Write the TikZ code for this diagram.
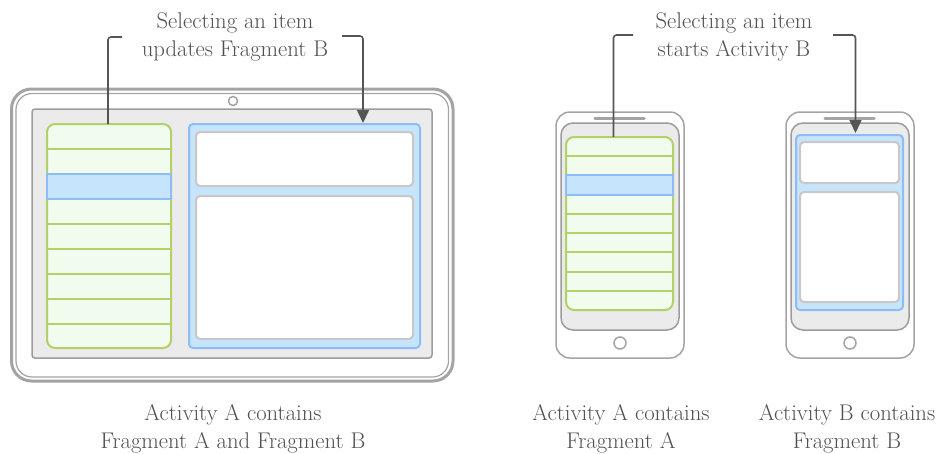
\documentclass[tikz,border=0pt]{standalone}
\usetikzlibrary{arrows.meta}
\definecolor{txt}{HTML}{505050}
\definecolor{arr}{HTML}{555555}
\definecolor{devline}{HTML}{A4A4A4}
\definecolor{scrfill}{HTML}{EBEBEB}
\definecolor{scrline}{HTML}{9C9C9C}
\definecolor{grline}{HTML}{B2D269}
\definecolor{grfill}{HTML}{F1FBEE}
\definecolor{blline}{HTML}{8DBCF7}
\definecolor{blfill}{HTML}{C6E4FB}
\definecolor{boxline}{HTML}{C8C8C8}
\tikzset{
  lbl/.style={text=txt, align=center, anchor=north, inner sep=0pt, font=\fontsize{22.7}{27.5}\selectfont},
  device/.style={draw=devline, line width=1.5pt, fill=white},
  screen/.style={draw=scrline, fill=scrfill, line width=1.5pt},
  listbox/.style={draw=grline, fill=grfill, line width=2pt},
  rowline/.style={draw=grline, line width=2pt},
  selrow/.style={draw=blline, fill=blfill, line width=2pt},
  fragb/.style={draw=blline, fill=blfill, line width=2pt},
  wbox/.style={draw=boxline, fill=white, line width=2pt},
  speaker/.style={draw=devline, line width=3.5pt, line cap=round},
  conn/.style={draw=arr, line width=1.6pt, rounded corners=3pt},
  connarrow/.style={conn, -{Triangle[length=13pt,width=12pt]}}
}
\begin{document}
\begin{tikzpicture}[x=1pt,y=-1pt]
\useasboundingbox (0,0) rectangle (939,453);

% ---------- Tablet ----------
\draw[devline, line width=3pt, rounded corners=20pt, fill=white] (11.5,89) rectangle (453,381);
\draw[devline, line width=1.2pt, rounded corners=16pt] (16,93.5) rectangle (448.5,377);
\draw[screen, rounded corners=3pt] (32,109) rectangle (432,358);
\draw[devline, line width=1.5pt, fill=white] (233,101) circle (4.5pt);

% list fragment A
\draw[listbox, rounded corners=8pt] (47,124) rectangle (171,348);
\foreach \k in {1,...,8} {
  \draw[rowline] (47,124+25*\k) -- (171,124+25*\k);
}
\draw[selrow] (47,174) rectangle (171,199);

% fragment B
\draw[fragb, rounded corners=4pt] (189,124) rectangle (420,348);
\draw[wbox, rounded corners=4pt] (196,132) rectangle (413,186);
\draw[wbox, rounded corners=4pt] (196,196) rectangle (413,339);

% connectors tablet
\coordinate (tA) at (108,124);
\coordinate (tAend) at (122,37);
\coordinate (tBstart) at (342,36);
\coordinate (tB) at (363,123);
\draw[conn] (tA) |- (tAend);
\draw[connarrow] (tBstart) -| (tB);

\node[lbl] (tlabel) at (235,12.5) {Selecting an item\\updates Fragment B};
\node[lbl] (tcap) at (233,404.5) {Activity A contains\\Fragment A and Fragment B};

% ---------- Phone A ----------
\draw[device, rounded corners=14pt] (556,112) rectangle (684,358);
\draw[screen, rounded corners=12pt] (561,123) rectangle (679,330);
\draw[speaker] (595,118.5) -- (644,118.5);
\draw[devline, line width=1.5pt, fill=white] (620,343) circle (6pt);

\draw[listbox, rounded corners=8pt] (566,137) rectangle (673,310);
\foreach \k in {1,...,8} {
  \draw[rowline] (566,137+19.22*\k) -- (673,137+19.22*\k);
}
\draw[selrow] (566,175.44) rectangle (673,194.66);

% ---------- Phone B ----------
\draw[device, rounded corners=14pt] (786,112) rectangle (914,358);
\draw[screen, rounded corners=12pt] (791,123) rectangle (909,330);
\draw[speaker] (825,118.5) -- (874,118.5);
\draw[devline, line width=1.5pt, fill=white] (850,343) circle (6pt);

\draw[fragb, rounded corners=4pt] (796,135) rectangle (903,310);
\draw[wbox, rounded corners=4pt] (800,142) rectangle (899,183);
\draw[wbox, rounded corners=4pt] (800,192) rectangle (899,302);

% connectors phones
\coordinate (pA) at (613.5,137);
\coordinate (pAend) at (633,35);
\coordinate (pBstart) at (833,35);
\coordinate (pB) at (855.5,133);
\draw[conn] (pA) |- (pAend);
\draw[connarrow] (pBstart) -| (pB);

\node[lbl] (plabel) at (734,12.5) {Selecting an item\\starts Activity B};
\node[lbl] (pcapA) at (621,404.5) {Activity A contains\\Fragment A};
\node[lbl] (pcapB) at (847,404.5) {Activity B contains\\Fragment B};
\end{tikzpicture}
\end{document}
